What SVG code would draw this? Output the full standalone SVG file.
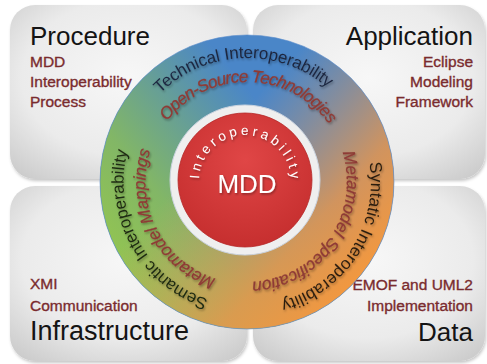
<svg xmlns="http://www.w3.org/2000/svg" width="487" height="364" viewBox="0 0 487 364">
<defs>
  <radialGradient id="qg" cx="0.5" cy="0.42" r="0.75">
    <stop offset="0" stop-color="#f7f7f7"/>
    <stop offset="0.6" stop-color="#ebebeb"/>
    <stop offset="1" stop-color="#c8c8c8"/>
  </radialGradient>
  <linearGradient id="greenG" x1="0.05" y1="0.75" x2="0.6" y2="0.3">
    <stop offset="0" stop-color="#92c452" stop-opacity="1"/>
    <stop offset="0.35" stop-color="#8cbf55" stop-opacity="0.85"/>
    <stop offset="1" stop-color="#8cbf55" stop-opacity="0"/>
  </linearGradient>
  <linearGradient id="orangeG" x1="0.95" y1="0.75" x2="0.45" y2="0.3">
    <stop offset="0" stop-color="#f2983f" stop-opacity="1"/>
    <stop offset="0.35" stop-color="#e8964c" stop-opacity="0.85"/>
    <stop offset="1" stop-color="#d89a66" stop-opacity="0"/>
  </linearGradient>
  <radialGradient id="redG" cx="0.5" cy="0.35" r="0.65">
    <stop offset="0" stop-color="#e04646"/>
    <stop offset="1" stop-color="#c62f2f"/>
  </radialGradient>
  <filter id="qs" x="-5%" y="-5%" width="110%" height="115%">
    <feDropShadow dx="1" dy="2" stdDeviation="1.5" flood-color="#000" flood-opacity="0.22"/>
  </filter>
  <filter id="ts" x="-10%" y="-10%" width="120%" height="130%">
    <feDropShadow dx="1" dy="1.5" stdDeviation="1" flood-color="#000" flood-opacity="0.35"/>
  </filter>
  <path id="pT1" d="M123.07,186.33 A124,124 0 0 1 370.92,177.67"/>
  <path id="pT2" d="M146.02,180.24 A101,101 0 0 1 347.98,183.76"/>
  <path id="pR1" d="M313.81,77.53 A124,124 0 0 1 180.19,286.47"/>
  <path id="pR2" d="M304.36,100.08 A100,100 0 0 1 189.64,263.92"/>
  <path id="pL1" d="M306.17,290.97 A124,124 0 0 1 187.83,73.03"/>
  <path id="pL2" d="M293.31,272.88 A102,102 0 0 1 200.69,91.12"/>
  <path id="pC" d="M199,181 A46,46 0 0 1 291,181"/>
</defs>
<style>
  .quad { fill: url(#qg); filter: url(#qs); }
  .title { font-family: "Liberation Sans", Arial, sans-serif; font-size: 26px; fill: #141414; }
  .sub { font-family: "Liberation Sans", Arial, sans-serif; font-size: 15.5px; fill: #7a2b2e; stroke: #7a2b2e; stroke-width: 0.35px; }
  .ro { font-family: "Liberation Sans", Arial, sans-serif; font-size: 17px; filter: url(#ts); }
  .ri { font-family: "Liberation Sans", Arial, sans-serif; font-size: 17px; font-style: italic; fill: #8e3b36; stroke: #8e3b36; stroke-width: 0.3px; filter: url(#ts); }
  .end { text-anchor: end; }
</style>

<g id="procedure">
  <rect class="quad" x="10" y="5" width="237" height="174" rx="25"/>
  <text class="title" x="30" y="45">Procedure</text>
  <text class="sub" x="30" y="67">MDD</text>
  <text class="sub" x="30" y="87">Interoperability</text>
  <text class="sub" x="30" y="107">Process</text>
</g>
<g id="application">
  <rect class="quad" x="253" y="5" width="232" height="174" rx="25"/>
  <text class="title end" x="473" y="45">Application</text>
  <text class="sub end" x="473" y="67">Eclipse</text>
  <text class="sub end" x="473" y="87">Modeling</text>
  <text class="sub end" x="473" y="107">Framework</text>
</g>
<g id="infrastructure">
  <rect class="quad" x="10" y="186" width="237" height="175" rx="25"/>
  <text class="sub" x="30" y="289">XMI</text>
  <text class="sub" x="30" y="311">Communication</text>
  <text class="title" x="30" y="340" style="font-size:27px">Infrastructure</text>
</g>
<g id="data">
  <rect class="quad" x="253" y="186" width="232" height="175" rx="25"/>
  <text class="sub end" x="473" y="290">EMOF and UML2</text>
  <text class="sub end" x="473" y="311">Implementation</text>
  <text class="title end" x="473" y="341">Data</text>
</g>

<g id="connectors"/>

<g id="ring">
  <circle cx="247" cy="182" r="147" fill="#4a86c8"/>
  <circle cx="247" cy="182" r="147" fill="url(#greenG)"/>
  <circle cx="247" cy="182" r="147" fill="url(#orangeG)"/>
  <circle cx="247" cy="182" r="147" fill="none" stroke="#5a8ccc" stroke-width="1" opacity="0.6"/>
  <text class="ro" fill="#1c2740"><textPath href="#pT1" startOffset="50%" text-anchor="middle" textLength="184" lengthAdjust="spacing">Technical Interoperability</textPath></text>
  <text class="ri"><textPath href="#pT2" startOffset="50%" text-anchor="middle" textLength="188" lengthAdjust="spacing">Open-Source Technologies</textPath></text>
  <text class="ro" fill="#2b1d10"><textPath href="#pR1" startOffset="50%" text-anchor="middle" textLength="180" lengthAdjust="spacing">Syntatic Interoperability</textPath></text>
  <text class="ri"><textPath href="#pR2" startOffset="50%" text-anchor="middle" textLength="182" lengthAdjust="spacing">Metamodel Specification</textPath></text>
  <text class="ro" fill="#1f2a12"><textPath href="#pL1" startOffset="50%" text-anchor="middle" textLength="186" lengthAdjust="spacing">Semantic Interoperability</textPath></text>
  <text class="ri"><textPath href="#pL2" startOffset="50%" text-anchor="middle" textLength="160" lengthAdjust="spacing">Metamodel Mappings</textPath></text>
</g>

<g id="center">
  <circle cx="245" cy="180" r="75" fill="#efefef" stroke="#c9d2de" stroke-width="1"/>
  <circle cx="245" cy="180" r="67" fill="url(#redG)" stroke="#b52a2a" stroke-width="0.8"/>
  <text font-family="'Liberation Sans', Arial, sans-serif" font-size="13.5" fill="#ffffff" filter="url(#ts)"><textPath href="#pC" startOffset="50%" text-anchor="middle" textLength="140" lengthAdjust="spacing">Interoperability</textPath></text>
  <text x="247" y="193" text-anchor="middle" font-family="'Liberation Sans', Arial, sans-serif" font-size="26" fill="#ffffff" filter="url(#ts)">MDD</text>
</g>
</svg>
